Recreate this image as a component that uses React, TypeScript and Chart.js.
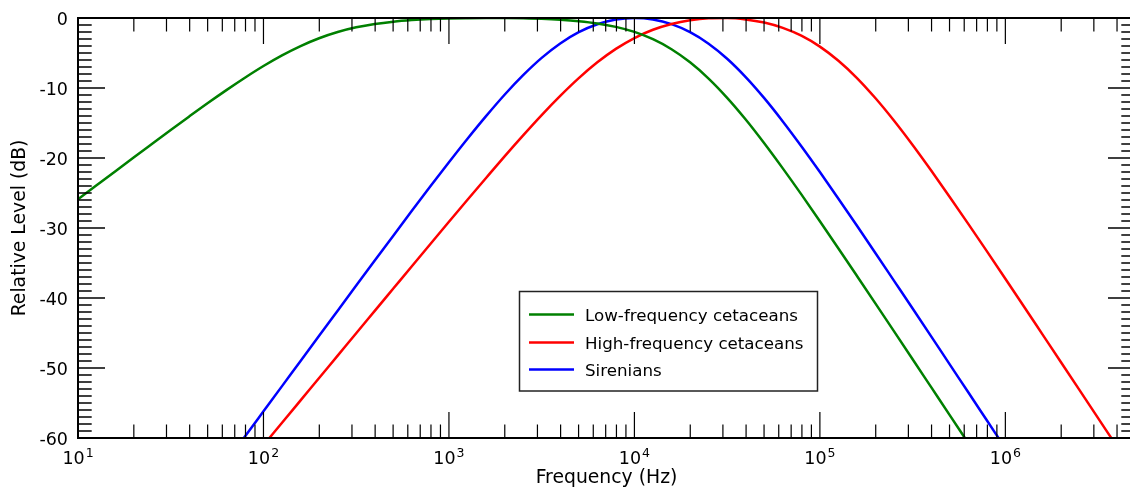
import React, { useEffect, useRef } from "react";
import { Chart, registerables } from "chart.js";

Chart.register(...registerables);

// Frequencies (Hz), one point every 0.1 decade from 10 Hz to 5 MHz
const FREQ_HZ = [
  10, 12.59, 15.85, 19.95, 25.12, 31.62, 39.81, 50.12, 63.1, 79.43,
  100, 125.9, 158.5, 199.5, 251.2, 316.2, 398.1, 501.2, 631.0, 794.3,
  1000, 1259, 1585, 1995, 2512, 3162, 3981, 5012, 6310, 7943,
  10000, 12589, 15849, 19953, 25119, 31623, 39811, 50119, 63096, 79433,
  100000, 125893, 158489, 199526, 251189, 316228, 398107, 501187, 630957, 794328,
  1000000, 1258925, 1584893, 1995262, 2511886, 3162278, 3981072, 5011872,
];

// Relative level (dB)
const LOW_FREQ_CETACEANS = [
  -25.9, -23.91, -21.92, -19.93, -17.96, -16.0, -14.06, -12.15, -10.3, -8.53,
  -6.86, -5.34, -4.01, -2.89, -2.0, -1.33, -0.85, -0.52, -0.3, -0.15,
  -0.06, -0.02, 0.0, -0.01, -0.05, -0.12, -0.25, -0.46, -0.78, -1.27,
  -1.99, -3.03, -4.46, -6.33, -8.65, -11.4, -14.5, -17.89, -21.48, -25.2,
  -29.03, -32.92, -36.85, -40.8, -44.77, -48.75, -52.74, -56.73, -60.73, -64.73,
  null, null, null, null, null, null, null, null,
];

const HIGH_FREQ_CETACEANS = [
  null, null, null, null, null, null, null, null, null, -64.22,
  -61.02, -57.83, -54.63, -51.43, -48.23, -45.03, -41.84, -38.65, -35.46, -32.28,
  -29.11, -25.96, -22.85, -19.77, -16.77, -13.87, -11.13, -8.59, -6.33, -4.41,
  -2.86, -1.68, -0.85, -0.32, -0.05, -0.01, -0.2, -0.65, -1.41, -2.53,
  -4.09, -6.11, -8.58, -11.47, -14.68, -18.14, -21.79, -25.56, -29.41, -33.31,
  -37.25, -41.21, -45.19, -49.17, -53.16, -57.16, -61.15, -65.15,
];

const SIRENIANS = [
  null, null, null, null, null, null, null, null, -63.39, -59.79,
  -56.19, -52.59, -49.0, -45.4, -41.81, -38.23, -34.65, -31.09, -27.55, -24.05,
  -20.61, -17.25, -14.02, -10.96, -8.17, -5.7, -3.64, -2.03, -0.9, -0.22,
  0.0, -0.21, -0.87, -2.02, -3.67, -5.82, -8.44, -11.45, -14.77, -18.31,
  -22.0, -25.81, -29.68, -33.6, -37.55, -41.5, -45.48, -49.48, -53.47, -57.47,
  -61.47, -65.47, null, null, null, null, null, null,
];

const SERIES_NAMES = ["Low-frequency cetaceans", "High-frequency cetaceans", "Sirenians"];
const SERIES_COLORS = ["#008000", "#ff0000", "#0000ff"];

const Y_TICKS = [0, -10, -20, -30, -40, -50, -60];
const X_DECADE_EXPONENTS = [1, 2, 3, 4, 5, 6];
const X_MIN = 10;
const X_MAX = 5e6;
const Y_MIN = -60;
const Y_MAX = 0;
const X_TITLE = "Frequency (Hz)";
const Y_TITLE = "Relative Level (dB)";

const FONT = '"DejaVu Sans", "Bitstream Vera Sans", sans-serif';
const TICK_PX = 17.5;
const SUP_PX = 12.5;
const TITLE_PX = 18.8;
const LEGEND_PX = 16.7;
const LINE_W = 2.5;

const decorPlugin = {
  id: "decor",
  afterDatasetsDraw(chart: any) {
    const { ctx, chartArea: a } = chart;
    const xs = chart.scales.x;
    const ys = chart.scales.y;
    ctx.save();
    ctx.strokeStyle = "#000";
    ctx.fillStyle = "#000";

    // x ticks (inward, top and bottom)
    ctx.lineWidth = 1.2;
    for (let e = 1; e <= 7; e++) {
      for (let m = 1; m <= 9; m++) {
        const v = m * Math.pow(10, e);
        if (v > X_MAX) break;
        const px = xs.getPixelForValue(v);
        const len = m === 1 ? 26 : 13.5;
        ctx.beginPath();
        ctx.moveTo(px, a.bottom);
        ctx.lineTo(px, a.bottom - len);
        ctx.moveTo(px, a.top);
        ctx.lineTo(px, a.top + len);
        ctx.stroke();
      }
    }

    // y ticks every 1 dB (inward, left and right)
    ctx.lineWidth = 1.5;
    for (let v = Y_MIN; v <= Y_MAX; v++) {
      const py = ys.getPixelForValue(v);
      const len = v % 10 === 0 ? 27 : 13.7;
      ctx.beginPath();
      ctx.moveTo(a.left, py);
      ctx.lineTo(a.left + len, py);
      ctx.moveTo(a.right, py);
      ctx.lineTo(a.right - len, py);
      ctx.stroke();
    }

    // frame
    ctx.lineWidth = 2;
    ctx.strokeRect(a.left, a.top, a.right - a.left, a.bottom - a.top);

    // y tick labels
    ctx.font = `${TICK_PX}px ${FONT}`;
    ctx.textAlign = "right";
    ctx.textBaseline = "alphabetic";
    for (const v of Y_TICKS) {
      const py = ys.getPixelForValue(v);
      ctx.fillText(String(v), a.left - 10, py + 7);
    }

    // x tick labels 10^n
    for (const e of X_DECADE_EXPONENTS) {
      const px = xs.getPixelForValue(Math.pow(10, e));
      ctx.font = `${TICK_PX}px ${FONT}`;
      const wBase = ctx.measureText("10").width;
      ctx.font = `${SUP_PX}px ${FONT}`;
      const wSup = ctx.measureText(String(e)).width;
      const x0 = px - (wBase + wSup + 1) / 2;
      ctx.textAlign = "left";
      ctx.font = `${TICK_PX}px ${FONT}`;
      ctx.fillText("10", x0, a.bottom + 25.5);
      ctx.font = `${SUP_PX}px ${FONT}`;
      ctx.fillText(String(e), x0 + wBase + 1, a.bottom + 18.5);
    }

    // axis titles
    ctx.font = `${TITLE_PX}px ${FONT}`;
    ctx.textAlign = "center";
    ctx.fillText(X_TITLE, (a.left + a.right) / 2, 483);
    ctx.save();
    ctx.translate(25, (a.top + a.bottom) / 2);
    ctx.rotate(-Math.PI / 2);
    ctx.fillText(Y_TITLE, 0, 0);
    ctx.restore();

    // legend
    const bx = 519.5, by = 291.5, bw = 298, bh = 99.5;
    ctx.fillStyle = "#fff";
    ctx.fillRect(bx, by, bw, bh);
    ctx.strokeStyle = "#222";
    ctx.lineWidth = 1.5;
    ctx.strokeRect(bx, by, bw, bh);
    const rows = [314.5, 342.5, 369.5];
    chart.data.datasets.forEach((ds: any, i: number) => {
      const ry = rows[i];
      ctx.strokeStyle = ds.borderColor;
      ctx.lineWidth = LINE_W;
      ctx.beginPath();
      ctx.moveTo(529, ry);
      ctx.lineTo(574, ry);
      ctx.stroke();
      ctx.fillStyle = "#000";
      ctx.font = `${LEGEND_PX}px ${FONT}`;
      ctx.textAlign = "left";
      ctx.fillText(ds.label, 585, ry + 6.5);
    });

    ctx.restore();
  },
};

export default function App() {
  const canvasRef = useRef<HTMLCanvasElement | null>(null);

  useEffect(() => {
    document.body.style.margin = "0";
    document.body.style.overflow = "hidden";
    const canvas = canvasRef.current;
    if (!canvas) return;
    const seriesValues = [LOW_FREQ_CETACEANS, HIGH_FREQ_CETACEANS, SIRENIANS];
    const chart = new Chart(canvas, {
      type: "line",
      data: {
        datasets: seriesValues.map((vals, i) => ({
          label: SERIES_NAMES[i],
          data: FREQ_HZ.map((f, j) => ({ x: f, y: vals[j] })),
          borderColor: SERIES_COLORS[i],
          backgroundColor: SERIES_COLORS[i],
          borderWidth: LINE_W,
          pointRadius: 0,
          fill: false,
          cubicInterpolationMode: "monotone",
          spanGaps: false,
        })),
      },
      options: {
        responsive: false,
        animation: false,
        devicePixelRatio: 1,
        layout: { padding: { left: 78, top: 18, right: 5, bottom: 52 } },
        scales: {
          x: { type: "logarithmic", min: X_MIN, max: X_MAX, display: false },
          y: { type: "linear", min: Y_MIN, max: Y_MAX, display: false },
        },
        plugins: {
          legend: { display: false },
          tooltip: { enabled: false },
        },
        events: [],
      },
      plugins: [decorPlugin],
    } as any);
    return () => chart.destroy();
  }, []);

  return (
    <div
      style={{
        position: "fixed",
        left: 0,
        top: 0,
        width: 1130,
        height: 490,
        overflow: "hidden",
        background: "#fff",
      }}
    >
      <canvas
        ref={canvasRef}
        width={1140}
        height={490}
        style={{ display: "block", width: 1140, height: 490 }}
      />
    </div>
  );
}
